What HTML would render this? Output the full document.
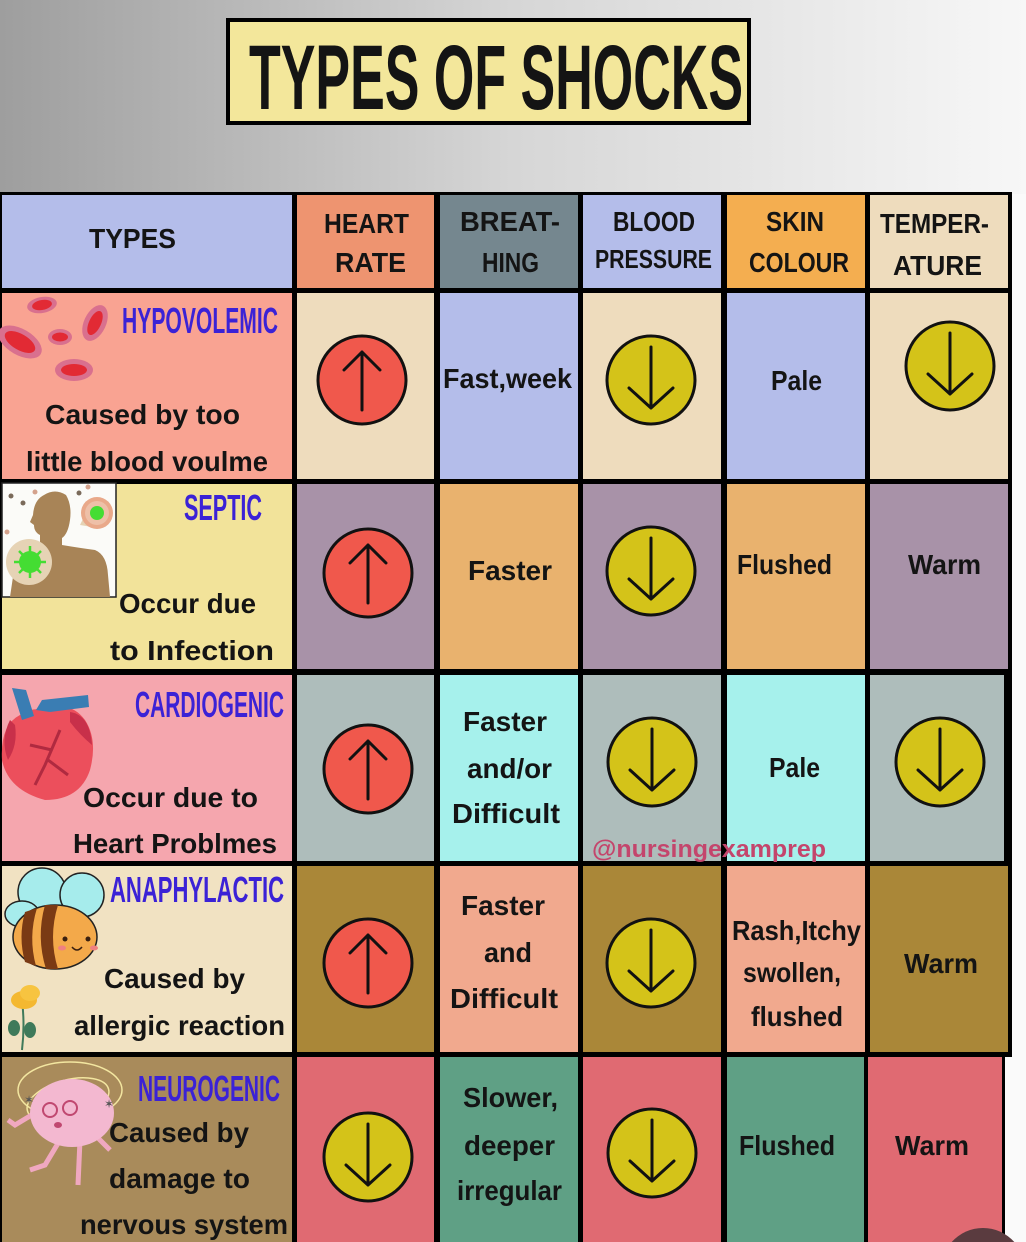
<!DOCTYPE html>
<html>
<head>
<meta charset="utf-8">
<style>
  html,body{margin:0;padding:0;background:#fafafa;width:1026px;height:1242px;overflow:hidden;}
  svg{display:block;overflow:hidden;}
  .t{font-family:"Liberation Sans",sans-serif;font-weight:bold;fill:#141414;}
  .h{font-size:28px;}
  .n{font-size:36px;fill:#3b22d6;}
  .b{font-size:28px;}
</style>
</head>
<body>
<svg width="1026" height="1242" viewBox="0 0 1026 1242" xmlns="http://www.w3.org/2000/svg">
  <defs>
    <linearGradient id="bg" x1="0" y1="0" x2="1" y2="0">
      <stop offset="0" stop-color="#9e9e9e"/>
      <stop offset="0.5" stop-color="#d6d6d6"/>
      <stop offset="1" stop-color="#f7f7f7"/>
    </linearGradient>
  </defs>
  <rect x="0" y="0" width="1026" height="1242" fill="#fafafa"/>
  <rect x="0" y="0" width="1026" height="194" fill="url(#bg)"/>

  <!-- Title -->
  <rect x="228" y="20" width="521" height="103" fill="#f3e79b" stroke="#000" stroke-width="4"/>
  <text class="t" x="249" y="109" font-size="92" textLength="494" lengthAdjust="spacingAndGlyphs">TYPES OF SHOCKS</text>

  <!-- Table background -->
  <rect x="0" y="192" width="1012" height="1050" fill="#000"/>

  <!-- Header -->
  <rect x="2" y="195" width="290" height="93" fill="#b4bdea"/>
  <rect x="297" y="195" width="137" height="93" fill="#ee9470"/>
  <rect x="440" y="195" width="138" height="93" fill="#75878f"/>
  <rect x="583" y="195" width="138" height="93" fill="#b4bdea"/>
  <rect x="727" y="195" width="138" height="93" fill="#f4ae50"/>
  <rect x="870" y="195" width="138" height="93" fill="#eedcbd"/>

  <!-- Row 1 -->
  <rect x="2" y="293" width="290" height="186" fill="#f9a392"/>
  <rect x="297" y="293" width="137" height="186" fill="#eedcbd"/>
  <rect x="440" y="293" width="138" height="186" fill="#b4bdea"/>
  <rect x="583" y="293" width="138" height="186" fill="#eedcbd"/>
  <rect x="727" y="293" width="138" height="186" fill="#b4bdea"/>
  <rect x="870" y="293" width="138" height="186" fill="#eedcbd"/>

  <!-- Row 2 -->
  <rect x="2" y="484" width="290" height="185" fill="#f2e39a"/>
  <rect x="297" y="484" width="137" height="185" fill="#a892a8"/>
  <rect x="440" y="484" width="138" height="185" fill="#e9b26e"/>
  <rect x="583" y="484" width="138" height="185" fill="#a892a8"/>
  <rect x="727" y="484" width="138" height="185" fill="#e9b26e"/>
  <rect x="870" y="484" width="138" height="185" fill="#a892a8"/>

  <!-- Row 3 -->
  <rect x="2" y="675" width="290" height="186" fill="#f5a6ae"/>
  <rect x="297" y="675" width="137" height="186" fill="#aebdbb"/>
  <rect x="440" y="675" width="138" height="186" fill="#a6f1ec"/>
  <rect x="583" y="675" width="138" height="186" fill="#aebdbb"/>
  <rect x="727" y="675" width="138" height="186" fill="#a6f1ec"/>
  <rect x="870" y="675" width="134" height="186" fill="#aebdbb"/>

  <!-- Row 4 -->
  <rect x="2" y="866" width="290" height="186" fill="#f1e2c2"/>
  <rect x="297" y="866" width="137" height="186" fill="#aa8738"/>
  <rect x="440" y="866" width="138" height="186" fill="#f1a98e"/>
  <rect x="583" y="866" width="138" height="186" fill="#aa8738"/>
  <rect x="727" y="866" width="138" height="186" fill="#f1a98e"/>
  <rect x="870" y="866" width="138" height="186" fill="#aa8738"/>

  <!-- Row 5 -->
  <rect x="2" y="1057" width="290" height="185" fill="#a98b5b"/>
  <rect x="297" y="1057" width="137" height="185" fill="#e06a72"/>
  <rect x="440" y="1057" width="138" height="185" fill="#5fa085"/>
  <rect x="583" y="1057" width="138" height="185" fill="#e06a72"/>
  <rect x="727" y="1057" width="137" height="185" fill="#5fa085"/>
  <rect x="868" y="1057" width="134" height="185" fill="#e06a72"/>
  <rect x="1005" y="1057" width="21" height="185" fill="#fafafa"/>

  <!-- Header text -->
  <text class="t h" x="89" y="248" textLength="87" lengthAdjust="spacingAndGlyphs">TYPES</text>
  <text class="t h" x="324" y="233" textLength="85" lengthAdjust="spacingAndGlyphs">HEART</text>
  <text class="t h" x="335" y="272" textLength="71" lengthAdjust="spacingAndGlyphs">RATE</text>
  <text class="t h" x="460" y="231" textLength="100" lengthAdjust="spacingAndGlyphs">BREAT-</text>
  <text class="t h" x="482" y="272" textLength="57" lengthAdjust="spacingAndGlyphs">HING</text>
  <text class="t h" x="613" y="231" textLength="82" lengthAdjust="spacingAndGlyphs">BLOOD</text>
  <text class="t" font-size="26" x="595" y="268" textLength="117" lengthAdjust="spacingAndGlyphs">PRESSURE</text>
  <text class="t h" x="766" y="231" textLength="58" lengthAdjust="spacingAndGlyphs">SKIN</text>
  <text class="t h" x="749" y="272" textLength="100" lengthAdjust="spacingAndGlyphs">COLOUR</text>
  <text class="t h" x="880" y="233" textLength="109" lengthAdjust="spacingAndGlyphs">TEMPER-</text>
  <text class="t h" x="893" y="275" textLength="89" lengthAdjust="spacingAndGlyphs">ATURE</text>

  <!-- Illustrations: Row1 blood cells -->
  <g>
    <g transform="translate(20,342) rotate(30)"><ellipse rx="24" ry="13" fill="#d9708e"/><ellipse rx="17" ry="8" fill="#e22a34"/></g>
    <g transform="translate(42,305) rotate(-10)"><ellipse rx="15" ry="8" fill="#d9708e"/><ellipse rx="10" ry="5" fill="#e22a34"/></g>
    <g transform="translate(60,337)"><ellipse rx="12" ry="8" fill="#d9708e"/><ellipse rx="8" ry="4.5" fill="#e22a34"/></g>
    <g transform="translate(95,323) rotate(25)"><ellipse rx="11" ry="19" fill="#d9708e"/><ellipse rx="6" ry="13" fill="#e22a34"/></g>
    <g transform="translate(74,370)"><ellipse rx="19" ry="11" fill="#d9708e"/><ellipse rx="13" ry="6" fill="#e22a34"/></g>
  </g>

  <!-- Row2 septic image -->
  <g>
    <rect x="2" y="483" width="114" height="114" fill="#fbfbf8" stroke="#222" stroke-width="1.5"/>
    <circle cx="11" cy="496" r="2.5" fill="#7a6a5a"/>
    <circle cx="35" cy="492" r="2.5" fill="#d4a28c"/>
    <circle cx="23" cy="503" r="2.5" fill="#7a6a5a"/>
    <circle cx="79" cy="493" r="2.5" fill="#7a6a5a"/>
    <circle cx="88" cy="487" r="2.5" fill="#d4a28c"/>
    <circle cx="7" cy="532" r="2.5" fill="#d4a28c"/>
    <path d="M44 495 Q55 488 66 495 Q72 505 70 520 Q68 534 62 538 L62 545 Q80 548 95 550 Q107 555 108 575 L110 597 L10 597 L14 570 Q20 550 40 545 L40 535 Q34 532 34 525 L30 522 L33 515 Q34 500 44 495 Z" fill="#a88457"/>
    <path d="M80 525 L92 500 L98 528 Z" fill="#e6d3b5"/>
    <circle cx="97" cy="513" r="16" fill="#e9a98a"/>
    <circle cx="97" cy="513" r="12" fill="#eec0a8"/>
    <circle cx="97" cy="513" r="7" fill="#44dd33"/>
    <circle cx="29" cy="562" r="23" fill="#e6d3b5"/>
    <circle cx="30" cy="562" r="11" fill="#44dd33"/>
    <g stroke="#44dd33" stroke-width="2.5">
      <line x1="30" y1="546" x2="30" y2="578"/>
      <line x1="14" y1="562" x2="46" y2="562"/>
      <line x1="19" y1="551" x2="41" y2="573"/>
      <line x1="41" y1="551" x2="19" y2="573"/>
    </g>
  </g>

  <!-- Row3 heart -->
  <g>
    <path d="M20 715 Q0 725 2 760 Q8 790 45 800 Q80 800 90 770 Q98 740 85 720 Q70 700 50 712 Q35 705 20 715 Z" fill="#ec4f5c"/>
    <path d="M10 720 Q0 740 8 760 Q18 745 15 725 Z" fill="#c8304a"/>
    <path d="M70 712 Q90 715 92 745 Q80 735 70 722 Z" fill="#c8304a"/>
    <path d="M12 688 L22 720 L34 716 L26 690 Z" fill="#3a7db3"/>
    <path d="M36 710 L42 700 L88 695 L89 707 L50 712 Z" fill="#3a7db3"/>
    <g stroke="#b02a40" stroke-width="3" fill="none">
      <path d="M60 730 L45 765 L35 785"/>
      <path d="M52 750 L30 745"/>
      <path d="M48 760 L68 775"/>
    </g>
  </g>

  <!-- Row4 bee + flower -->
  <g>
    <ellipse cx="42" cy="892" rx="24" ry="24" fill="#a6ecec" stroke="#222" stroke-width="1.5"/>
    <ellipse cx="82" cy="895" rx="22" ry="22" fill="#a6ecec" stroke="#222" stroke-width="1.5"/>
    <ellipse cx="22" cy="914" rx="17" ry="13" fill="#a6ecec" stroke="#222" stroke-width="1.5"/>
    <ellipse cx="55" cy="937" rx="42" ry="32" fill="#f3a94a" stroke="#222" stroke-width="1.5"/>
    <path d="M25 912 Q18 937 25 962 L36 966 Q28 937 37 908 Z" fill="#7a3a14"/>
    <path d="M45 905 Q36 937 46 969 L58 969 Q48 937 58 905 Z" fill="#7a3a14"/>
    <circle cx="65" cy="939" r="2.5" fill="#3a2010"/>
    <circle cx="88" cy="939" r="2.5" fill="#3a2010"/>
    <ellipse cx="62" cy="948" rx="4" ry="2.5" fill="#f08080"/>
    <ellipse cx="94" cy="948" rx="4" ry="2.5" fill="#f08080"/>
    <path d="M72 947 Q77 953 82 947" stroke="#3a2010" stroke-width="1.5" fill="none"/>
    <path d="M22 1000 Q25 1025 22 1050" stroke="#3f7a5a" stroke-width="2" fill="none"/>
    <ellipse cx="14" cy="1028" rx="6" ry="8" fill="#3f7a5a"/>
    <ellipse cx="30" cy="1030" rx="6" ry="8" fill="#3f7a5a"/>
    <ellipse cx="24" cy="1000" rx="13" ry="9" fill="#f4b830"/>
    <ellipse cx="30" cy="993" rx="10" ry="8" fill="#f7c440"/>
  </g>

  <!-- Row5 brain -->
  <g>
    <ellipse cx="70" cy="1090" rx="52" ry="28" fill="none" stroke="#f3e6a0" stroke-width="1.5"/>
    <ellipse cx="68" cy="1100" rx="42" ry="20" fill="none" stroke="#f3e6a0" stroke-width="1.5" transform="rotate(-15 68 1100)"/>
    <path d="M40 1110 L15 1125 L8 1120" stroke="#f0a8c0" stroke-width="5" fill="none"/>
    <path d="M60 1140 L45 1165 L30 1170" stroke="#f0a8c0" stroke-width="5" fill="none"/>
    <path d="M80 1140 L78 1185" stroke="#f0a8c0" stroke-width="5" fill="none"/>
    <path d="M95 1135 L110 1150" stroke="#f0a8c0" stroke-width="5" fill="none"/>
    <ellipse cx="72" cy="1113" rx="42" ry="34" fill="#f3b8d0"/>
    <circle cx="50" cy="1110" r="7" fill="none" stroke="#c04870" stroke-width="2"/>
    <circle cx="70" cy="1108" r="7" fill="none" stroke="#c04870" stroke-width="2"/>
    <ellipse cx="58" cy="1125" rx="4" ry="3" fill="#c04870"/>
    <text x="24" y="1104" font-size="12" fill="#555">✶</text>
    <text x="104" y="1108" font-size="12" fill="#555">✶</text>
  </g>

  <!-- Row names -->
  <text class="t n" x="122" y="333" textLength="156" lengthAdjust="spacingAndGlyphs">HYPOVOLEMIC</text>
  <text class="t n" x="184" y="520" font-size="37" textLength="78" lengthAdjust="spacingAndGlyphs">SEPTIC</text>
  <text class="t n" x="135" y="717" textLength="149" lengthAdjust="spacingAndGlyphs">CARDIOGENIC</text>
  <text class="t n" x="110" y="902" textLength="174" lengthAdjust="spacingAndGlyphs">ANAPHYLACTIC</text>
  <text class="t n" x="138" y="1101" textLength="142" lengthAdjust="spacingAndGlyphs">NEUROGENIC</text>

  <!-- Type descriptions -->
  <text class="t b" x="45" y="424" textLength="195" lengthAdjust="spacingAndGlyphs">Caused by too</text>
  <text class="t b" x="26" y="471" textLength="242" lengthAdjust="spacingAndGlyphs">little blood voulme</text>
  <text class="t b" x="119" y="613" textLength="137" lengthAdjust="spacingAndGlyphs">Occur due</text>
  <text class="t b" x="110" y="660" textLength="164" lengthAdjust="spacingAndGlyphs">to  Infection</text>
  <text class="t b" x="83" y="807" textLength="175" lengthAdjust="spacingAndGlyphs">Occur due to</text>
  <text class="t b" x="73" y="853" textLength="204" lengthAdjust="spacingAndGlyphs">Heart Problmes</text>
  <text class="t b" x="104" y="988" textLength="141" lengthAdjust="spacingAndGlyphs">Caused by</text>
  <text class="t b" x="74" y="1035" textLength="211" lengthAdjust="spacingAndGlyphs">allergic reaction</text>
  <text class="t b" x="109" y="1142" textLength="140" lengthAdjust="spacingAndGlyphs">Caused by</text>
  <text class="t b" x="109" y="1188" textLength="141" lengthAdjust="spacingAndGlyphs">damage to</text>
  <text class="t b" x="80" y="1234" textLength="208" lengthAdjust="spacingAndGlyphs">nervous system</text>

  <!-- Data text -->
  <text class="t b" x="443" y="388" textLength="129" lengthAdjust="spacingAndGlyphs">Fast,week</text>
  <text class="t b" x="771" y="390" textLength="51" lengthAdjust="spacingAndGlyphs">Pale</text>
  <text class="t b" x="468" y="580" textLength="84" lengthAdjust="spacingAndGlyphs">Faster</text>
  <text class="t b" x="737" y="574" textLength="95" lengthAdjust="spacingAndGlyphs">Flushed</text>
  <text class="t b" x="908" y="574" textLength="73" lengthAdjust="spacingAndGlyphs">Warm</text>
  <text class="t b" x="463" y="731" textLength="84" lengthAdjust="spacingAndGlyphs">Faster</text>
  <text class="t b" x="467" y="778" textLength="85" lengthAdjust="spacingAndGlyphs">and/or</text>
  <text class="t b" x="452" y="823" textLength="108" lengthAdjust="spacingAndGlyphs">Difficult</text>
  <text class="t b" x="769" y="777" textLength="51" lengthAdjust="spacingAndGlyphs">Pale</text>
  <text class="t b" x="461" y="915" textLength="84" lengthAdjust="spacingAndGlyphs">Faster</text>
  <text class="t b" x="484" y="962" textLength="48" lengthAdjust="spacingAndGlyphs">and</text>
  <text class="t b" x="450" y="1008" textLength="108" lengthAdjust="spacingAndGlyphs">Difficult</text>
  <text class="t b" x="732" y="940" textLength="129" lengthAdjust="spacingAndGlyphs">Rash,Itchy</text>
  <text class="t b" x="743" y="982" textLength="98" lengthAdjust="spacingAndGlyphs">swollen,</text>
  <text class="t b" x="751" y="1026" textLength="92" lengthAdjust="spacingAndGlyphs">flushed</text>
  <text class="t b" x="904" y="973" textLength="74" lengthAdjust="spacingAndGlyphs">Warm</text>
  <text class="t b" x="463" y="1107" textLength="95" lengthAdjust="spacingAndGlyphs">Slower,</text>
  <text class="t b" x="464" y="1155" textLength="91" lengthAdjust="spacingAndGlyphs">deeper</text>
  <text class="t b" x="457" y="1200" textLength="105" lengthAdjust="spacingAndGlyphs">irregular</text>
  <text class="t b" x="739" y="1155" textLength="96" lengthAdjust="spacingAndGlyphs">Flushed</text>
  <text class="t b" x="895" y="1155" textLength="74" lengthAdjust="spacingAndGlyphs">Warm</text>

  <!-- Watermark -->
  <text class="t" x="592" y="857" font-size="24" style="fill:#c4456c" textLength="234" lengthAdjust="spacingAndGlyphs">@nursingexamprep</text>

  <!-- Up arrows (red) -->
  <g stroke="#111" stroke-width="3" fill="#f0584c">
    <circle cx="362" cy="380" r="44"/>
    <circle cx="368" cy="573" r="44"/>
    <circle cx="368" cy="769" r="44"/>
    <circle cx="368" cy="963" r="44"/>
  </g>
  <g stroke="#111" stroke-width="3" fill="none" stroke-linecap="round" stroke-linejoin="round">
    <path d="M362 410 V352 M344 370 L362 352 L380 370"/>
    <path d="M368 603 V545 M350 563 L368 545 L386 563"/>
    <path d="M368 799 V741 M350 759 L368 741 L386 759"/>
    <path d="M368 993 V935 M350 953 L368 935 L386 953"/>
  </g>

  <!-- Down arrows (yellow) -->
  <g stroke="#111" stroke-width="3" fill="#d4c319">
    <circle cx="651" cy="380" r="44"/>
    <circle cx="950" cy="366" r="44"/>
    <circle cx="651" cy="571" r="44"/>
    <circle cx="652" cy="762" r="44"/>
    <circle cx="940" cy="762" r="44"/>
    <circle cx="651" cy="963" r="44"/>
    <circle cx="368" cy="1157" r="44"/>
    <circle cx="652" cy="1153" r="44"/>
  </g>
  <g stroke="#111" stroke-width="3" fill="none" stroke-linecap="round" stroke-linejoin="round">
    <path d="M651 347 V408 M629 388 L651 408 L673 388"/>
    <path d="M950 333 V394 M928 374 L950 394 L972 374"/>
    <path d="M651 538 V599 M629 579 L651 599 L673 579"/>
    <path d="M652 729 V790 M630 770 L652 790 L674 770"/>
    <path d="M940 729 V790 M918 770 L940 790 L962 770"/>
    <path d="M651 930 V991 M629 971 L651 991 L673 971"/>
    <path d="M368 1124 V1185 M346 1165 L368 1185 L390 1165"/>
    <path d="M652 1120 V1181 M630 1161 L652 1181 L674 1161"/>
  </g>

  <!-- bottom-right dark circle segment (cut at page edge) -->
  <path d="M951.7 1242 A42 42 0 0 1 1014.3 1242 Z" fill="#5a3b3f"/>
</svg>
</body>
</html>
